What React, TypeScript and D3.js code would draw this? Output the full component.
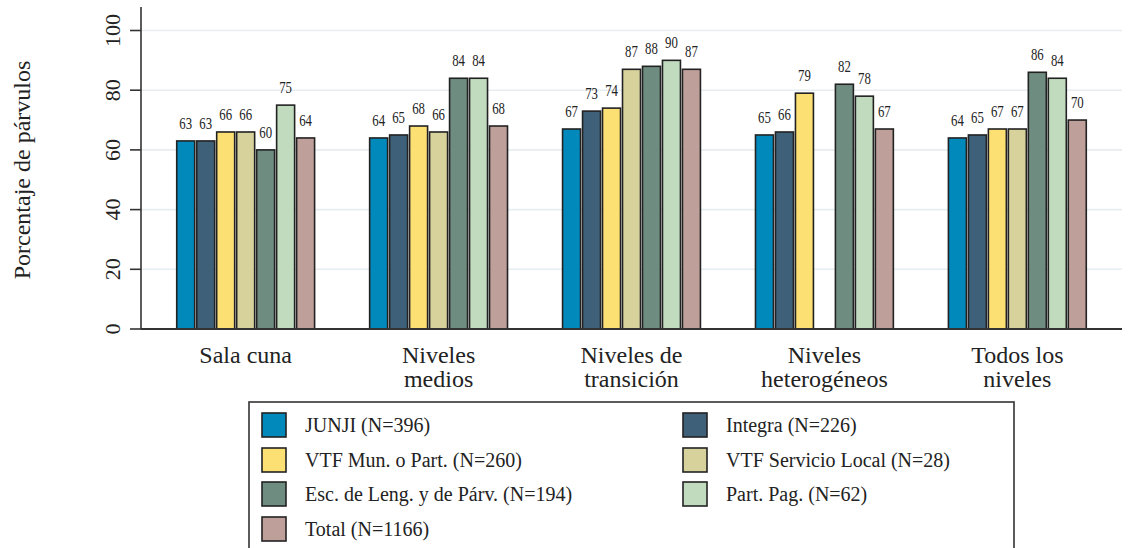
import React from "react";
import * as d3 from "d3";

const categories = [
  ["Sala cuna"],
  ["Niveles", "medios"],
  ["Niveles de", "transición"],
  ["Niveles", "heterogéneos"],
  ["Todos los", "niveles"],
];
const seriesNames = [
  "JUNJI (N=396)",
  "Integra (N=226)",
  "VTF Mun. o Part. (N=260)",
  "VTF Servicio Local (N=28)",
  "Esc. de Leng. y de Párv. (N=194)",
  "Part. Pag. (N=62)",
  "Total (N=1166)",
];
const seriesColors = ["#0289bc", "#3e6079", "#fde073", "#d7d19c", "#6e8c7f", "#c1dbbf", "#bf9f99"];
// values[series][category]
const junji = [63, 64, 67, 65, 64];
const integra = [63, 65, 73, 66, 65];
const vtfMun = [66, 68, 74, 79, 67];
const vtfSL = [66, 66, 87, null, 67];
const escLeng = [60, 84, 88, 82, 86];
const partPag = [75, 84, 90, 78, 84];
const total = [64, 68, 87, 67, 70];
const seriesValues = [junji, integra, vtfMun, vtfSL, escLeng, partPag, total];
const yTicks = [0, 20, 40, 60, 80, 100];

const FONT = "'Liberation Serif', 'Times New Roman', serif";

export default function App() {
  const W = 1129, H = 548;
  const left = 141, right = 1122, y0 = 329;
  const y = d3.scaleLinear().domain([0, 100]).range([y0, y0 - 298.5]);
  const x = d3.scaleBand<number>().domain(d3.range(categories.length)).range([left, right]).paddingInner(0.275).paddingOuter(0.18);
  const xi = d3.scaleBand<number>().domain(d3.range(seriesNames.length)).range([0, x.bandwidth()]).paddingInner(0.1).paddingOuter(0.05);

  const legendRows = [425, 460, 494, 529];
  const legendCols = [262, 683];

  return (
    <div style={{ position: "fixed", left: 0, top: 0 }}>
      <svg width={W} height={H} style={{ display: "block", background: "#fff" }} fontFamily={FONT}>
        {/* gridlines */}
        {yTicks.filter((t) => t > 0).map((t) => (
          <line key={"g" + t} x1={left} x2={right} y1={y(t)} y2={y(t)} stroke="#e6eef1" strokeWidth={1.6} />
        ))}
        {/* bars */}
        {seriesValues.map((vals, si) =>
          vals.map((v, ci) =>
            v == null ? null : (
              <g key={`b${si}-${ci}`}>
                <rect
                  x={(x(ci) as number) + (xi(si) as number)}
                  y={y(v)}
                  width={xi.bandwidth()}
                  height={y0 - y(v)}
                  fill={seriesColors[si]}
                  stroke="#222"
                  strokeWidth={1.6}
                />
                <text
                  transform={`translate(${(x(ci) as number) + (xi(si) as number) + xi.bandwidth() / 2},${y(v) - 12}) scale(0.8,1)`}
                  textAnchor="middle"
                  fontSize={16}
                  fill="#222"
                >
                  {d3.format(".0f")(v)}
                </text>
              </g>
            )
          )
        )}
        {/* y axis */}
        <line x1={left} x2={left} y1={7} y2={y0} stroke="#333" strokeWidth={1.6} />
        {yTicks.map((t) => (
          <g key={"t" + t}>
            <line x1={130} x2={left} y1={y(t)} y2={y(t)} stroke="#333" strokeWidth={1.6} />
            <text transform={`translate(120,${y(t)}) rotate(-90)`} textAnchor="middle" fontSize={22} fill="#222">
              {t}
            </text>
          </g>
        ))}
        <line x1={left} x2={right} y1={y0} y2={y0} stroke="#333" strokeWidth={2} />
        <text transform={`translate(30,170) rotate(-90)`} textAnchor="middle" fontSize={24} fill="#222">
          Porcentaje de párvulos
        </text>
        {/* category labels */}
        {categories.map((lines, ci) => (
          <text key={"c" + ci} x={(x(ci) as number) + x.bandwidth() / 2} y={363} textAnchor="middle" fontSize={24} fill="#222">
            {lines.map((l, li) => (
              <tspan key={li} x={(x(ci) as number) + x.bandwidth() / 2} dy={li === 0 ? 0 : 24}>
                {l}
              </tspan>
            ))}
          </text>
        ))}
        {/* legend */}
        <rect x={249} y={402} width={765} height={160} fill="#fff" stroke="#333" strokeWidth={1.6} />
        {seriesNames.map((name, si) => {
          const row = Math.floor(si / 2);
          const col = si % 2;
          const cx = legendCols[col];
          const cy = legendRows[row];
          return (
            <g key={"l" + si}>
              <rect x={cx} y={cy - 12} width={24} height={24} fill={seriesColors[si]} stroke="#222" strokeWidth={1.6} />
              <text x={cx + 43} y={cy + 7} fontSize={20} fill="#222">
                {name}
              </text>
            </g>
          );
        })}
      </svg>
    </div>
  );
}
